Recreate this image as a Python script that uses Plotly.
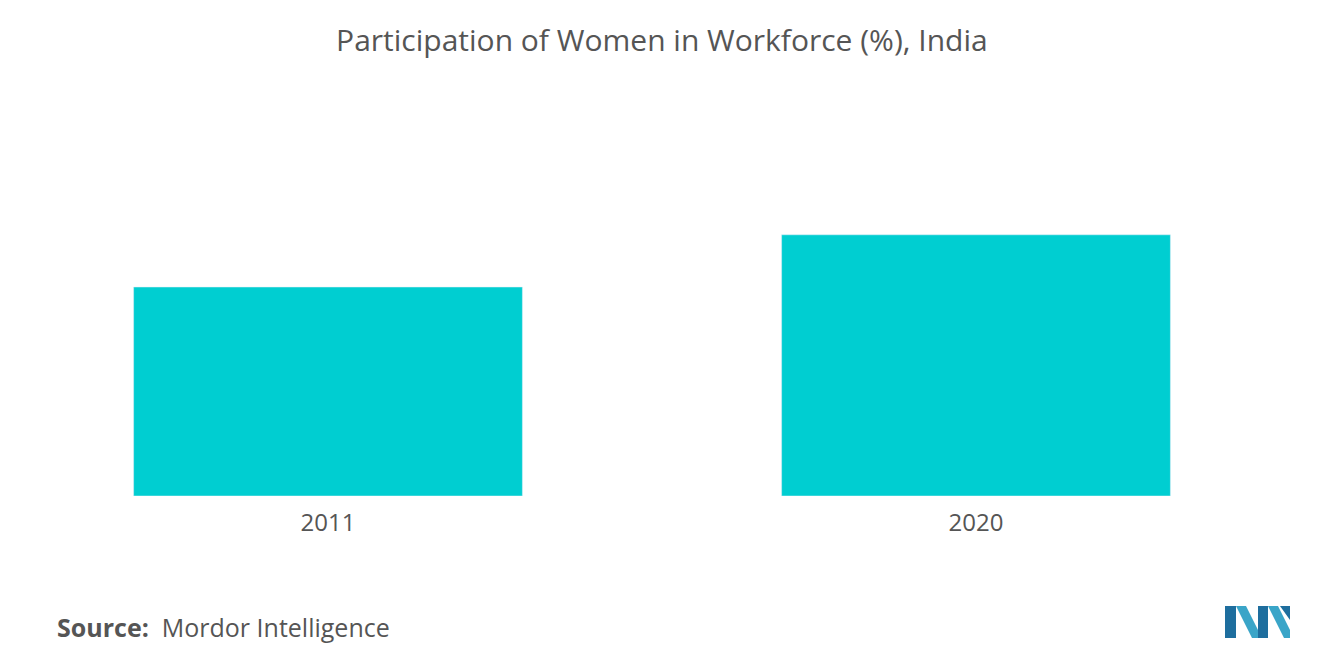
import plotly.graph_objects as go

years = ["2011", "2020"]
values = [20.0, 25.0]

fig = go.Figure(go.Bar(x=years, y=values, marker_color="#00CED1", width=0.6))

OFF = 8  # page offset
L, T, W, H = 0, 92, 1300, 396
def px(x): return (x - OFF - L) / W
def py(y): return (T + H - (y - OFF)) / H

def poly(pts, color):
    d = "M " + " L ".join(f"{px(a)},{py(b)}" for a, b in pts) + " Z"
    return dict(type="path", xref="paper", yref="paper", path=d, fillcolor=color, line_width=0)

shapes = [
    poly([(1225, 638), (1225, 606), (1236, 606), (1236, 638)], "#1E6E9E"),
    poly([(1236, 606), (1246, 606), (1262, 638), (1252, 638)], "#3AA5C8"),
    poly([(1258, 606), (1268, 606), (1268, 638), (1258, 638)], "#1E6E9E"),
    poly([(1268, 606), (1278, 606), (1290, 630), (1290, 638), (1284, 638)], "#3AA5C8"),
    poly([(1280, 606), (1290, 606), (1290, 620)], "#1E6E9E"),
]

c0 = 328 - OFF
fig.update_layout(
    width=1320, height=665,
    margin=dict(l=L, r=1320 - L - W, t=T, b=665 - T - H),
    paper_bgcolor="white", plot_bgcolor="white",
    font=dict(family="Open Sans", color="#555555"),
    title=dict(text="Participation of Women in Workforce (%), India", x=px(652), xanchor="center",
               y=1 - (40 - OFF) / 665, yanchor="middle", font=dict(size=30, color="#555555")),
    xaxis=dict(showgrid=False, showline=False, ticks="", tickfont=dict(size=24, color="#555555"),
               ticklabelstandoff=10, range=[-c0 / 648, (W - c0) / 648]),
    yaxis=dict(visible=False, range=[0, 37.9]),
    shapes=shapes,
    annotations=[dict(text="<b>Source:</b>  Mordor Intelligence", xref="paper", yref="paper",
                      x=px(55), y=py(627), xanchor="left", yanchor="middle",
                      showarrow=False, font=dict(size=25, color="#555555"))],
)
fig.write_html("out.html")
